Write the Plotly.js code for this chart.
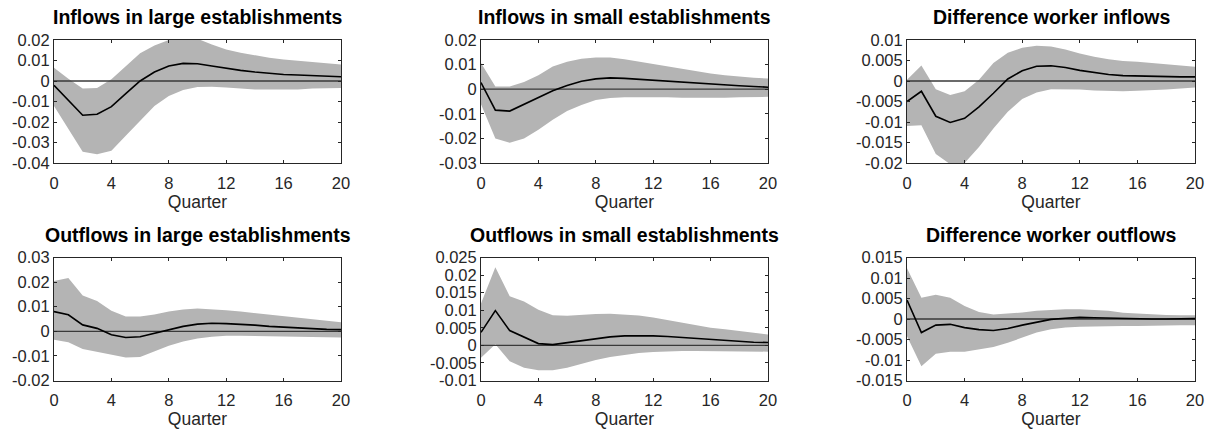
<!DOCTYPE html>
<html>
<head>
<meta charset="utf-8">
<script src="https://cdn.plot.ly/plotly-3.0.1.min.js"></script>
<style>html,body{margin:0;padding:0;background:#fff;}#chart{width:1213px;height:435px;}</style>
</head>
<body>
<div id="chart"></div>
<script>
const quarters = [0,1,2,3,4,5,6,7,8,9,10,11,12,13,14,15,16,17,18,19,20];
const zeroLineX = [0, 20];
const zeroLineY = [0, 0];

const titles = [
  "Inflows in large establishments",
  "Inflows in small establishments",
  "Difference worker inflows",
  "Outflows in large establishments",
  "Outflows in small establishments",
  "Difference worker outflows"
];

// Panel 1: Inflows in large establishments
const inLargeMid = [-0.0021,-0.0094,-0.0167,-0.0162,-0.0125,-0.0062,0.0000,0.0044,0.0073,0.0086,0.0084,0.0073,0.0062,0.0052,0.0044,0.0037,0.0032,0.0029,0.0026,0.0024,0.0021];
const inLargeUp  = [0.0065,0.0011,-0.0037,-0.0034,0.0008,0.0073,0.0135,0.0173,0.0200,0.0216,0.0206,0.0178,0.0154,0.0138,0.0125,0.0113,0.0105,0.0099,0.0092,0.0086,0.0081];
const inLargeLo  = [-0.0122,-0.0235,-0.0345,-0.0357,-0.0340,-0.0267,-0.0194,-0.0122,-0.0073,-0.0044,-0.0029,-0.0028,-0.0032,-0.0037,-0.0041,-0.0042,-0.0042,-0.0041,-0.0037,-0.0036,-0.0034];

// Panel 2: Inflows in small establishments
const inSmallMid = [0.0027,-0.0085,-0.0089,-0.0061,-0.0031,-0.0006,0.0015,0.0032,0.0042,0.0046,0.0044,0.0040,0.0036,0.0032,0.0028,0.0024,0.0019,0.0017,0.0014,0.0011,0.0008];
const inSmallUp  = [0.0106,0.0011,0.0011,0.0029,0.0057,0.0092,0.0112,0.0124,0.0129,0.0129,0.0122,0.0112,0.0101,0.0092,0.0082,0.0074,0.0064,0.0057,0.0051,0.0047,0.0043];
const inSmallLo  = [-0.0061,-0.0200,-0.0218,-0.0200,-0.0165,-0.0124,-0.0089,-0.0064,-0.0044,-0.0036,-0.0033,-0.0032,-0.0032,-0.0033,-0.0035,-0.0036,-0.0036,-0.0035,-0.0033,-0.0032,-0.0031];

// Panel 3: Difference worker inflows
const inDiffMid = [-0.0050,-0.0025,-0.0086,-0.0101,-0.0091,-0.0063,-0.0030,0.0005,0.0025,0.0036,0.0037,0.0033,0.0026,0.0021,0.0016,0.0013,0.0012,0.0011,0.0011,0.0010,0.0010];
const inDiffUp  = [0.0003,0.0038,-0.0020,-0.0034,-0.0025,0.0003,0.0044,0.0069,0.0081,0.0086,0.0084,0.0077,0.0067,0.0059,0.0053,0.0049,0.0047,0.0044,0.0040,0.0038,0.0035];
const inDiffLo  = [-0.0110,-0.0108,-0.0178,-0.0203,-0.0200,-0.0161,-0.0116,-0.0075,-0.0044,-0.0028,-0.0020,-0.0020,-0.0021,-0.0023,-0.0024,-0.0025,-0.0024,-0.0023,-0.0021,-0.0018,-0.0016];

// Panel 4: Outflows in large establishments
const outLargeMid = [0.0080,0.0067,0.0026,0.0012,-0.0014,-0.0025,-0.0022,-0.0008,0.0007,0.0020,0.0029,0.0033,0.0031,0.0029,0.0025,0.0020,0.0016,0.0014,0.0011,0.0008,0.0007];
const outLargeUp  = [0.0204,0.0217,0.0146,0.0123,0.0084,0.0060,0.0060,0.0068,0.0080,0.0089,0.0093,0.0091,0.0086,0.0080,0.0074,0.0067,0.0060,0.0053,0.0048,0.0041,0.0037];
const outLargeLo  = [-0.0034,-0.0045,-0.0072,-0.0083,-0.0095,-0.0106,-0.0104,-0.0082,-0.0059,-0.0041,-0.0029,-0.0022,-0.0018,-0.0018,-0.0019,-0.0020,-0.0022,-0.0023,-0.0025,-0.0025,-0.0025];

// Panel 5: Outflows in small establishments
const outSmallMid = [0.0037,0.0099,0.0042,0.0023,0.0005,0.0002,0.0008,0.0013,0.0020,0.0024,0.0027,0.0028,0.0027,0.0025,0.0022,0.0020,0.0016,0.0013,0.0011,0.0009,0.0008];
const outSmallUp  = [0.0119,0.0222,0.0140,0.0125,0.0101,0.0086,0.0084,0.0087,0.0089,0.0090,0.0088,0.0085,0.0079,0.0072,0.0066,0.0057,0.0050,0.0046,0.0041,0.0036,0.0031];
const outSmallLo  = [-0.0035,0.0003,-0.0045,-0.0064,-0.0071,-0.0071,-0.0064,-0.0052,-0.0042,-0.0033,-0.0027,-0.0022,-0.0019,-0.0017,-0.0016,-0.0016,-0.0016,-0.0016,-0.0017,-0.0018,-0.0018];

// Panel 6: Difference worker outflows
const outDiffMid = [0.0046,-0.0033,-0.0015,-0.0013,-0.0021,-0.0026,-0.0028,-0.0023,-0.0015,-0.0008,-0.0001,0.0002,0.0004,0.0003,0.0002,0.0001,0.0000,0.0000,0.0000,0.0000,0.0001];
const outDiffUp  = [0.0124,0.0052,0.0059,0.0052,0.0032,0.0017,0.0011,0.0013,0.0016,0.0020,0.0022,0.0024,0.0024,0.0022,0.0020,0.0015,0.0013,0.0011,0.0010,0.0009,0.0009];
const outDiffLo  = [-0.0042,-0.0115,-0.0085,-0.0080,-0.0080,-0.0074,-0.0068,-0.0058,-0.0046,-0.0033,-0.0025,-0.0021,-0.0019,-0.0018,-0.0017,-0.0017,-0.0017,-0.0016,-0.0015,-0.0015,-0.0015];

// Axis ticks
const xTickVals = [0,4,8,12,16,20];
const xTickText = ["0","4","8","12","16","20"];
const yTicks1 = [-0.04,-0.03,-0.02,-0.01,0,0.01,0.02];
const yText1  = ["-0.04","-0.03","-0.02","-0.01","0","0.01","0.02"];
const yTicks2 = [-0.03,-0.02,-0.01,0,0.01,0.02];
const yText2  = ["-0.03","-0.02","-0.01","0","0.01","0.02"];
const yTicks3 = [-0.02,-0.015,-0.01,-0.005,0,0.005,0.01];
const yText3  = ["-0.02","-0.015","-0.01","-0.005","0","0.005","0.01"];
const yTicks4 = [-0.02,-0.01,0,0.01,0.02,0.03];
const yText4  = ["-0.02","-0.01","0","0.01","0.02","0.03"];
const yTicks5 = [-0.01,-0.005,0,0.005,0.01,0.015,0.02,0.025];
const yText5  = ["-0.01","-0.005","0","0.005","0.01","0.015","0.02","0.025"];
const yTicks6 = [-0.015,-0.01,-0.005,0,0.005,0.01,0.015];
const yText6  = ["-0.015","-0.01","-0.005","0","0.005","0.01","0.015"];

const panels = [
  {mid: inLargeMid, up: inLargeUp, lo: inLargeLo, tv: yTicks1, tt: yText1},
  {mid: inSmallMid, up: inSmallUp, lo: inSmallLo, tv: yTicks2, tt: yText2},
  {mid: inDiffMid, up: inDiffUp, lo: inDiffLo, tv: yTicks3, tt: yText3},
  {mid: outLargeMid, up: outLargeUp, lo: outLargeLo, tv: yTicks4, tt: yText4},
  {mid: outSmallMid, up: outSmallUp, lo: outSmallLo, tv: yTicks5, tt: yText5},
  {mid: outDiffMid, up: outDiffUp, lo: outDiffLo, tv: yTicks6, tt: yText6}
];

const W = 1213, H = 435;
const colPx = [[54,341],[481,768],[907,1195]];
const rowPx = [[40,163],[257.5,380.5]];
const titleY = [17, 235];

const FONT = "Liberation Sans, Arial, sans-serif";
const data = [];
const layout = {
  width: W, height: H,
  margin: {l:0, r:0, t:0, b:0},
  paper_bgcolor: "#ffffff",
  plot_bgcolor: "#ffffff",
  showlegend: false,
  font: {family: FONT, color: "#262626", size: 16},
  annotations: []
};

panels.forEach((p, i) => {
  const r = Math.floor(i / 3), c = i % 3;
  const k = i + 1;
  const xa = "x" + (k === 1 ? "" : k), ya = "y" + (k === 1 ? "" : k);
  const xKey = "xaxis" + (k === 1 ? "" : k), yKey = "yaxis" + (k === 1 ? "" : k);
  data.push({x: quarters, y: p.lo, xaxis: xa, yaxis: ya, type: "scatter", mode: "lines",
    line: {width: 0, color: "rgba(0,0,0,0)"}, hoverinfo: "skip"});
  data.push({x: quarters, y: p.up, xaxis: xa, yaxis: ya, type: "scatter", mode: "lines",
    fill: "tonexty", fillcolor: "#b4b4b4", line: {width: 0, color: "rgba(0,0,0,0)"}, hoverinfo: "skip"});
  data.push({x: zeroLineX, y: zeroLineY, xaxis: xa, yaxis: ya, type: "scatter", mode: "lines",
    line: {width: 1.3, color: "#3a3a3a"}, hoverinfo: "skip"});
  data.push({x: quarters, y: p.mid, xaxis: xa, yaxis: ya, type: "scatter", mode: "lines",
    line: {width: 1.6, color: "#000000"}});
  const tv = p.tv;
  layout[xKey] = {
    domain: [colPx[c][0] / W, colPx[c][1] / W],
    anchor: ya, range: [0, 20],
    tickvals: xTickVals, ticktext: xTickText,
    ticks: "inside", ticklen: 3, tickcolor: "#262626",
    ticklabelstandoff: 5,
    showline: true, mirror: "ticks", linecolor: "#262626", linewidth: 1,
    showgrid: false, zeroline: false,
    tickfont: {size: 16.5, color: "#262626"},
    title: {text: "Quarter", font: {size: 17.5, color: "#262626"}, standoff: 3}
  };
  layout[yKey] = {
    domain: [1 - rowPx[r][1] / H, 1 - rowPx[r][0] / H],
    anchor: xa, range: [tv[0], tv[tv.length - 1]],
    tickvals: tv, ticktext: p.tt,
    ticks: "inside", ticklen: 3, tickcolor: "#262626",
    showline: true, mirror: "ticks", linecolor: "#262626", linewidth: 1,
    showgrid: false, zeroline: false,
    layer: "above traces",
    tickfont: {size: 16.5, color: "#262626"}
  };
  layout.annotations.push({
    text: "<b>" + titles[i] + "</b>",
    xref: "paper", yref: "paper",
    x: (colPx[c][0] + colPx[c][1]) / 2 / W,
    y: 1 - titleY[r] / H,
    xanchor: "center", yanchor: "middle",
    showarrow: false,
    font: {size: 19.5, color: "#000000", family: FONT}
  });
});

Plotly.newPlot("chart", data, layout, {displayModeBar: false, staticPlot: true});
</script>
</body>
</html>
